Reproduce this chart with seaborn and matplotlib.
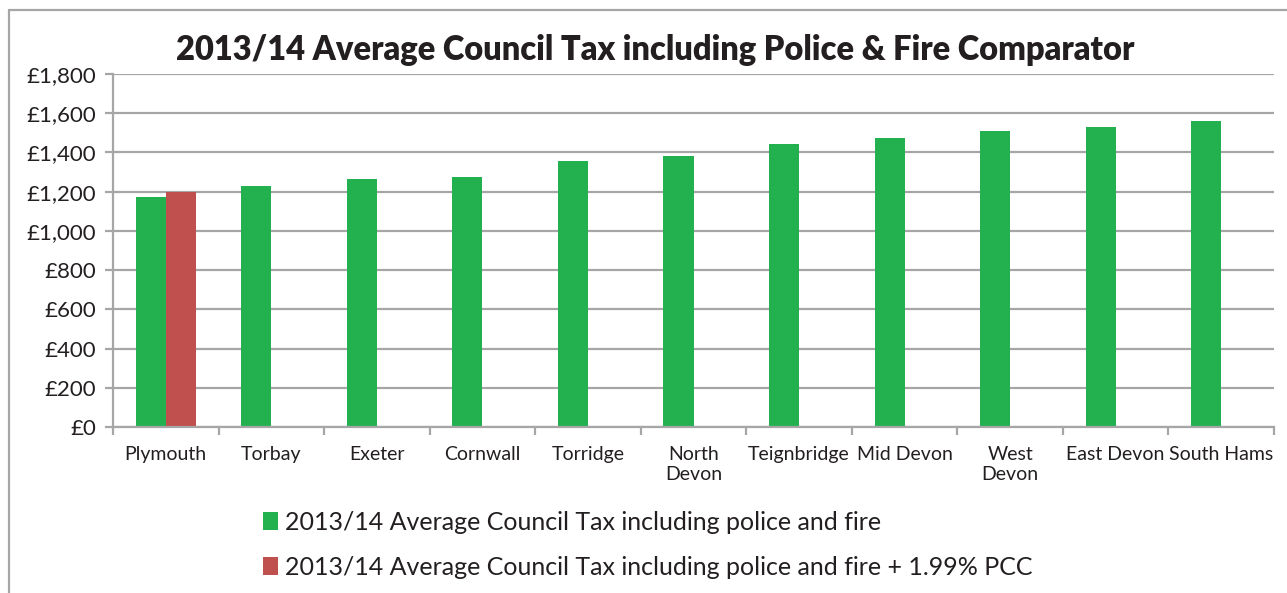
import matplotlib
matplotlib.use("Agg")
import matplotlib.pyplot as plt
from matplotlib.patches import Patch
from matplotlib.lines import Line2D
from matplotlib.ticker import FuncFormatter, FixedLocator
import seaborn as sns
import pandas as pd
import numpy as np

# Average council tax (incl. police and fire), 2013/14
areas = ["Plymouth", "Torbay", "Exeter", "Cornwall", "Torridge", "North\nDevon",
         "Teignbridge", "Mid Devon", "West\nDevon", "East Devon", "South Hams"]
base_tax = [1175, 1230, 1266, 1277, 1358, 1380, 1444, 1475, 1510, 1529, 1558]
pcc_tax = [1199, None, None, None, None, None, None, None, None, None, None]

series_base = "2013/14 Average Council Tax including police and fire"
series_pcc = "2013/14 Average Council Tax including police and fire + 1.99% PCC"
title = "2013/14 Average Council Tax including Police & Fire Comparator"

green = "#23B04F"
red = "#C0504D"
grid_grey = "#A6A6A6"
text_col = "#231F20"

df = pd.DataFrame({
    "area": areas * 2,
    "value": base_tax + [np.nan if v is None else v for v in pcc_tax],
    "series": [series_base] * len(areas) + [series_pcc] * len(areas),
})

sns.set_theme(style="white")
plt.rcParams["font.family"] = ["Lato", "DejaVu Sans"]

fig = plt.figure(figsize=(12.87, 5.93), dpi=100)
ax = fig.add_axes([113 / 1287, 1 - 427 / 593, (1274 - 113) / 1287, (427 - 74) / 593])

sns.barplot(data=df, x="area", y="value", hue="series",
            hue_order=[series_base, series_pcc], order=areas,
            palette=[green, red], width=0.57, gap=0, dodge=True,
            saturation=1, legend=False, ax=ax, errorbar=None, linewidth=0)

ax.set_xlim(-0.5, len(areas) - 0.5)
ax.set_ylim(0, 1800)
ax.set_yticks(np.arange(0, 1801, 200))
ax.yaxis.set_major_formatter(FuncFormatter(lambda v, p: f"£{v:,.0f}"))
ax.yaxis.grid(True, color=grid_grey, linewidth=1.6)
ax.set_axisbelow(True)
ax.set_xlabel("")
ax.set_ylabel("")

for side in ["top", "right"]:
    ax.spines[side].set_visible(False)
for side in ["left", "bottom"]:
    ax.spines[side].set_color(grid_grey)
    ax.spines[side].set_linewidth(1.6)

ax.tick_params(axis="y", which="major", left=True, length=6, width=1.6,
               color=grid_grey, labelsize=16, labelcolor=text_col, pad=6)
ax.tick_params(axis="x", which="major", bottom=False, labelsize=14,
               labelcolor=text_col, pad=8)
ax.xaxis.set_minor_locator(FixedLocator(np.arange(-0.5, len(areas), 1.0)))
ax.tick_params(axis="x", which="minor", bottom=True, length=6, width=1.6,
               color=grid_grey)
for lbl in ax.get_xticklabels():
    lbl.set_linespacing(1.2)
    lbl.set_verticalalignment("top")

fig.text(655 / 1287, 1 - 50 / 593, title, ha="center", va="center",
         fontsize=23.5, fontweight="heavy", color=text_col)

handles = [Patch(facecolor=green, edgecolor="none"),
           Patch(facecolor=red, edgecolor="none")]
fig.legend(handles, [series_base, series_pcc], loc="upper left",
           bbox_to_anchor=(240 / 1287, 1 - 488 / 593), frameon=False,
           fontsize=18, handlelength=0.6, handleheight=0.75,
           handletextpad=0.3, labelspacing=0.9, labelcolor=text_col)

# chart area frame (top and left edges)
fig.add_artist(Line2D([9 / 1287, 1], [1 - 10 / 593, 1 - 10 / 593],
                      transform=fig.transFigure, color=grid_grey, linewidth=1.6))
fig.add_artist(Line2D([9 / 1287, 9 / 1287], [0, 1 - 10 / 593],
                      transform=fig.transFigure, color=grid_grey, linewidth=1.6))

fig.savefig("out.png", dpi=100, facecolor="white")
